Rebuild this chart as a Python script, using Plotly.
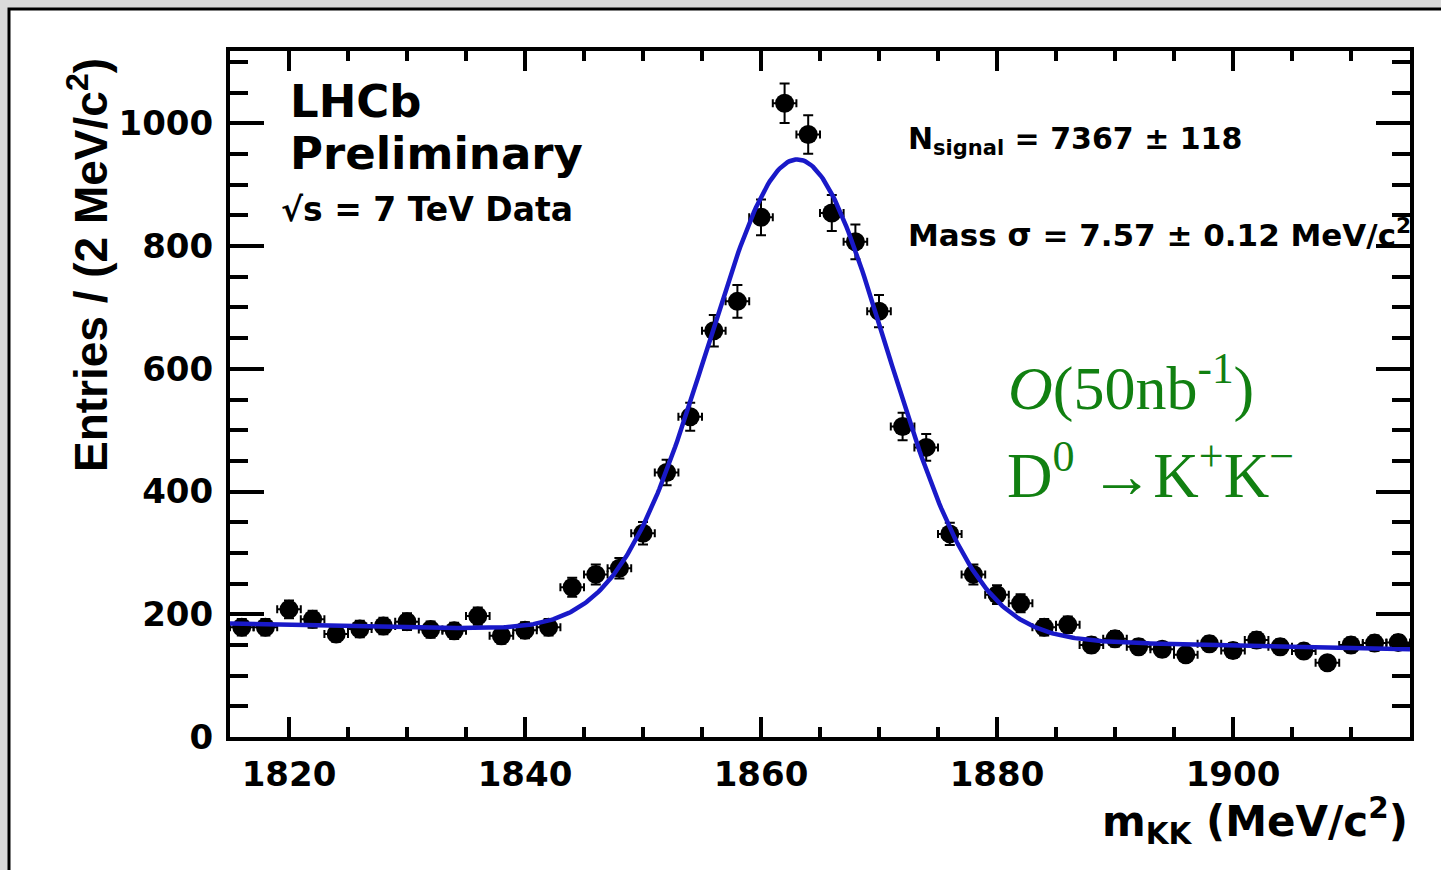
import numpy as np
import plotly.graph_objects as go

# --- data: D0 -> K+K- invariant mass, 2 MeV/c^2 bins -------------------------
mass_bins = [1816, 1818, 1820, 1822, 1824, 1826, 1828, 1830, 1832, 1834,
             1836, 1838, 1840, 1842, 1844, 1846, 1848, 1850, 1852, 1854,
             1856, 1858, 1860, 1862, 1864, 1866, 1868, 1870, 1872, 1874,
             1876, 1878, 1880, 1882, 1884, 1886, 1888, 1890, 1892, 1894,
             1896, 1898, 1900, 1902, 1904, 1906, 1908, 1910, 1912, 1914]
entries = [179, 179, 208, 192, 168, 176, 181, 188, 175, 173,
           197, 165, 174, 179, 244, 265, 275, 332, 431, 522,
           662, 710, 847, 1033, 982, 854, 807, 694, 506, 472,
           331, 265, 232, 218, 179, 183, 150, 160, 147, 143,
           134, 152, 141, 158, 147, 140, 121, 150, 153, 154]
bin_width = 2.0

# --- fit result: Gaussian signal + linear background ------------------------
n_signal = 7367
n_signal_err = 118
mass_mean = 1863.1
mass_sigma = 7.57
mass_sigma_err = 0.12
bkg_at_lo = 185.0   # background level at 1815 MeV/c^2
bkg_at_hi = 143.0   # background level at 1915 MeV/c^2

x_lo, x_hi = 1815, 1915
y_lo, y_hi = 0, 1118

# plot-area geometry (pixels)
W, H = 1441, 870
L, R, T, B = 230, 1410, 51, 737


def xp(px):
    return (px - L) / (R - L)


def yp(py):
    return (B - py) / (B - T)


x_arr = np.array(mass_bins, dtype=float)
y_arr = np.array(entries, dtype=float)
y_err = np.sqrt(y_arr)

x_fit = np.linspace(x_lo, x_hi, 600)
bkg = bkg_at_lo + (bkg_at_hi - bkg_at_lo) * (x_fit - x_lo) / (x_hi - x_lo)
sig = n_signal * bin_width / (np.sqrt(2 * np.pi) * mass_sigma) * \
    np.exp(-0.5 * ((x_fit - mass_mean) / mass_sigma) ** 2)
y_fit = sig + bkg

fig = go.Figure()

fig.add_trace(go.Scatter(
    x=x_arr, y=y_arr, mode="markers",
    marker=dict(symbol="circle", size=19, color="black"),
    error_y=dict(type="data", array=y_err, color="black", thickness=2, width=5),
    error_x=dict(type="constant", value=bin_width / 2, color="black",
                 thickness=2, width=4),
    showlegend=False, hoverinfo="skip",
))

fig.add_trace(go.Scatter(
    x=x_fit, y=y_fit, mode="lines",
    line=dict(color="rgb(25,25,200)", width=4.5),
    showlegend=False, hoverinfo="skip",
))

tick_font = dict(family="DejaVu Sans", size=34, color="black", weight="bold")

fig.update_xaxes(
    range=[x_lo, x_hi], tick0=1820, dtick=20,
    ticks="inside", ticklen=20, tickwidth=4, tickcolor="black",
    minor=dict(ticks="inside", dtick=5, tick0=1815, ticklen=10,
               tickwidth=4, tickcolor="black"),
    showline=True, linewidth=4, linecolor="black", mirror="ticks",
    showgrid=False, zeroline=False, tickfont=tick_font,
    ticklabelstandoff=4,
)
fig.update_yaxes(
    range=[y_lo, y_hi], tick0=0, dtick=200,
    ticks="inside", ticklen=34, tickwidth=4, tickcolor="black",
    minor=dict(ticks="inside", dtick=50, ticklen=18,
               tickwidth=4, tickcolor="black"),
    showline=True, linewidth=4, linecolor="black", mirror="ticks",
    showgrid=False, zeroline=False, tickfont=tick_font,
    ticklabelstandoff=6,
)

bold = "bold"
annotations = [
    # axis titles
    dict(text="Entries / (2 MeV/c<sup>2</sup>)", x=xp(88), y=yp(265),
         textangle=-90, xanchor="center", yanchor="middle",
         font=dict(family="Liberation Sans", size=46, color="black", weight=bold)),
    dict(text="m<sub>KK</sub> (MeV/c<sup>2</sup>)", x=xp(1410), y=yp(821),
         xanchor="right", yanchor="middle",
         font=dict(family="DejaVu Sans", size=42, color="black", weight=bold)),
    # experiment labels
    dict(text="LHCb", x=xp(288), y=yp(101), xanchor="left", yanchor="middle",
         font=dict(family="DejaVu Sans", size=45, color="black", weight=bold)),
    dict(text="Preliminary", x=xp(288), y=yp(153), xanchor="left", yanchor="middle",
         font=dict(family="DejaVu Sans", size=45, color="black", weight=bold)),
    dict(text="\u221As = 7 TeV Data", x=xp(279), y=yp(209), xanchor="left",
         yanchor="middle",
         font=dict(family="DejaVu Sans", size=33, color="black", weight=bold)),
    # fit results
    dict(text=f"N<sub>signal</sub> = {n_signal} \u00B1 {n_signal_err}",
         x=xp(906), y=yp(140), xanchor="left", yanchor="middle",
         font=dict(family="DejaVu Sans", size=30, color="black", weight=bold)),
    dict(text=f"Mass \u03C3 = {mass_sigma:.2f} \u00B1 {mass_sigma_err:.2f} MeV/c<sup>2</sup>",
         x=xp(906), y=yp(233), xanchor="left", yanchor="middle",
         font=dict(family="DejaVu Sans", size=31, color="black", weight=bold)),
    # channel / luminosity
    dict(text="<i>O</i>(50nb<sup>-1</sup>)", x=xp(1006), y=yp(384),
         xanchor="left", yanchor="middle",
         font=dict(family="Liberation Serif", size=62, color="rgb(17,128,17)")),
    dict(text="D<sup>0</sup> \u2192K<sup>+</sup>K<sup>\u2212</sup>", x=xp(1005), y=yp(471),
         xanchor="left", yanchor="middle",
         font=dict(family="Liberation Serif", size=63, color="rgb(17,128,17)")),
]
for a in annotations:
    a.update(xref="paper", yref="paper", showarrow=False)

# white panel with a dark frame on a grey page
shapes = [
    dict(type="rect", xref="paper", yref="paper",
         x0=xp(9), x1=xp(W + 20), y0=yp(H + 20), y1=yp(9),
         fillcolor="white", line=dict(color="black", width=3), layer="below"),
]

fig.update_layout(
    width=W, height=H,
    margin=dict(l=L, r=W - R, t=T, b=H - B, autoexpand=False),
    paper_bgcolor="rgb(218,218,218)",
    plot_bgcolor="rgba(0,0,0,0)",
    annotations=annotations,
    shapes=shapes,
    font=dict(family="DejaVu Sans", color="black"),
)

fig.write_html("out.html")
